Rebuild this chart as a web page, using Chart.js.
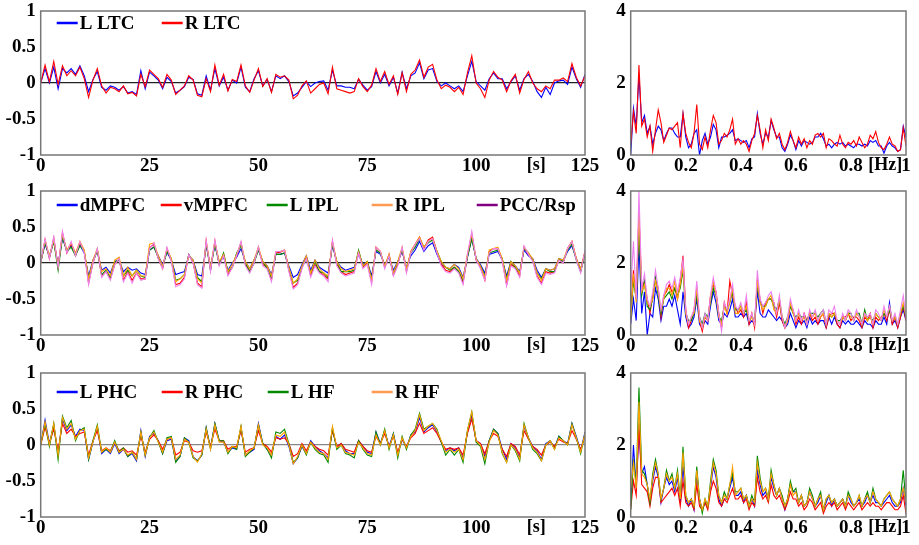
<!DOCTYPE html>
<html>
<head>
<meta charset="utf-8">
<script src="https://cdn.jsdelivr.net/npm/chart.js@4.4.0/dist/chart.umd.min.js"></script>
<style>
  body { margin: 0; background: #fff; width: 919px; height: 545px; position: relative; overflow: hidden; }
  canvas { position: absolute; }
</style>
</head>
<body>
<canvas id="t1" width="600" height="180" style="left:0;top:0"></canvas>
<canvas id="t2" width="600" height="180" style="left:0;top:180px"></canvas>
<canvas id="t3" width="600" height="180" style="left:0;top:362px"></canvas>
<canvas id="f1" width="319" height="180" style="left:600px;top:0"></canvas>
<canvas id="f2" width="319" height="180" style="left:600px;top:180px"></canvas>
<canvas id="f3" width="319" height="180" style="left:600px;top:362px"></canvas>
<script>
// sampling grids (time in s, frequency in Hz)
const timeSec = Array.from({ length: 126 }, (_, i) => i);
const freqHz = Array.from({ length: 101 }, (_, i) => i / 100);

const timeTicks = [0, 25, 50, 75, 100, 125];
const freqTicks = [0, 0.2, 0.4, 0.6, 0.8, 1];
const timeValueTicks = [-1, -0.5, 0, 0.5, 1];
const powerTicks = [0, 2, 4];

// row 1: LTC
const ltcNames = ["L LTC", "R LTC"];
const lLTC = [0.0,0.2,0.0,0.22,-0.08,0.2,0.14,0.2,0.12,0.24,
  0.1,-0.12,0.05,0.16,-0.06,-0.1,-0.04,-0.06,-0.1,-0.05,
  -0.14,-0.12,-0.16,0.17,-0.08,0.15,0.1,0.04,-0.08,0.08,
  0.02,-0.14,-0.1,-0.05,0.08,0.05,-0.15,-0.17,0.1,-0.1,
  0.2,-0.04,0.08,-0.1,0.04,0.0,0.22,-0.06,-0.12,0.06,
  0.17,-0.04,0.05,-0.12,0.1,0.06,0.1,0.02,-0.18,-0.14,
  -0.06,0.02,-0.05,0.0,0.02,0.03,-0.1,0.18,-0.04,-0.04,
  -0.06,-0.06,-0.08,0.05,-0.03,-0.1,-0.05,0.16,0.0,0.12,
  -0.04,0.08,-0.14,0.15,-0.08,0.1,0.14,0.28,0.06,0.18,
  0.2,0.02,-0.04,0.0,-0.04,-0.08,-0.04,-0.12,0.1,0.3,
  0.02,-0.04,-0.1,0.06,0.14,0.06,0.06,-0.08,0.02,0.1,
  -0.1,0.06,0.12,0.02,-0.12,-0.2,-0.06,-0.16,0.0,0.03,
  0.04,-0.02,0.22,0.06,-0.06,0.12];
const rLTC = [0.0,0.25,0.02,0.3,-0.02,0.24,0.1,0.17,0.1,0.22,
  0.06,-0.2,0.04,0.2,-0.04,-0.14,-0.06,-0.08,-0.12,-0.04,
  -0.15,-0.13,-0.18,0.12,-0.05,0.18,0.12,0.06,-0.06,0.12,
  0.04,-0.16,-0.1,-0.04,0.1,0.04,-0.17,-0.19,0.06,-0.12,
  0.25,-0.03,0.12,-0.11,0.05,0.02,0.25,-0.04,-0.13,0.04,
  0.2,-0.05,0.06,-0.13,0.12,0.08,0.1,0.04,-0.22,-0.17,
  -0.04,0.03,-0.14,-0.08,-0.02,0.0,-0.15,0.22,-0.08,-0.1,
  -0.12,-0.14,-0.12,0.06,-0.05,-0.12,-0.03,0.2,0.02,0.16,
  -0.02,0.1,-0.16,0.14,-0.12,0.12,0.18,0.32,0.08,0.22,
  0.26,0.04,-0.08,-0.03,-0.06,-0.12,-0.06,-0.16,0.14,0.38,
  0.0,-0.08,-0.2,0.04,0.16,0.08,0.04,-0.12,0.03,0.12,
  -0.14,0.05,0.16,0.0,-0.08,-0.12,-0.04,-0.08,0.04,0.04,
  0.07,0.02,0.27,0.08,-0.04,0.1];
const lLTCspec = [0.0,1.3,0.8,2.2,0.9,1.1,0.6,0.8,0.3,0.6,
  0.8,0.7,0.4,0.6,0.75,0.75,0.6,0.5,0.5,1.15,
  0.5,0.2,0.3,0.6,0.7,0.0,0.4,0.6,0.3,0.5,
  0.85,0.7,0.2,0.5,0.5,0.55,0.6,0.7,0.4,0.45,
  0.4,0.35,0.4,0.2,0.45,0.5,1.15,0.6,0.3,0.6,
  0.5,0.95,0.7,0.5,0.5,0.2,0.1,0.3,0.55,0.4,
  0.15,0.4,0.25,0.4,0.35,0.3,0.35,0.5,0.5,0.6,
  0.45,0.25,0.3,0.2,0.3,0.35,0.3,0.35,0.25,0.3,
  0.25,0.2,0.3,0.3,0.25,0.3,0.25,0.4,0.35,0.4,
  0.25,0.25,0.05,0.25,0.35,0.25,0.2,0.1,0.15,0.8,
  0.5];
const rLTCspec = [0.3,1.2,0.6,2.5,0.8,1.0,0.5,0.8,0.1,0.7,
  1.25,0.9,0.35,0.55,0.75,0.7,0.8,0.9,0.2,1.15,
  0.6,0.35,0.2,0.6,1.4,0.3,0.15,0.5,0.2,0.7,
  1.1,0.9,0.3,0.4,0.6,0.5,0.7,1.0,0.3,0.45,
  0.3,0.4,0.3,0.1,0.4,0.6,1.1,0.7,0.2,0.7,
  0.4,1.0,0.75,0.45,0.6,0.3,0.15,0.35,0.65,0.4,
  0.2,0.5,0.3,0.45,0.2,0.4,0.3,0.55,0.6,0.5,
  0.6,0.2,0.45,0.4,0.3,0.25,0.55,0.3,0.2,0.35,
  0.3,0.4,0.25,0.5,0.35,0.2,0.3,0.55,0.45,0.65,
  0.35,0.2,0.15,0.3,0.5,0.3,0.25,0.1,0.15,0.75,
  0.25];

// row 2: default mode network
const dmnNames = ["dMPFC", "vMPFC", "L IPL", "R IPL", "PCC/Rsp"];
const dMPFC = [0.02,0.26,0.1,0.3,-0.02,0.34,0.18,0.24,0.14,0.25,
  0.14,-0.18,0.04,0.17,-0.1,-0.06,-0.14,0.02,0.04,-0.12,
  -0.06,-0.1,-0.08,-0.14,-0.16,0.18,0.22,0.1,-0.02,0.15,
  0.04,-0.16,-0.14,-0.12,0.1,0.04,-0.16,-0.18,0.24,-0.04,
  0.24,0.02,0.08,-0.1,0.0,0.08,0.2,0.02,-0.08,0.04,
  0.18,0.02,-0.04,-0.16,0.12,0.12,0.14,-0.04,-0.2,-0.16,
  -0.02,0.1,-0.1,0.04,-0.06,-0.1,-0.14,0.24,0.02,-0.06,
  -0.1,-0.08,-0.06,0.12,-0.02,0.02,-0.18,0.16,0.12,-0.02,
  0.08,-0.1,0.02,0.16,-0.06,0.1,0.18,0.3,0.16,0.24,
  0.28,0.12,-0.02,-0.06,-0.08,-0.02,-0.06,-0.2,0.08,0.34,
  0.06,-0.02,-0.14,0.12,0.14,0.16,0.04,-0.18,0.02,-0.04,
  -0.12,0.18,0.1,0.06,-0.1,-0.2,-0.08,-0.1,-0.08,0.06,
  0.04,0.16,0.24,0.06,-0.08,0.14];
const vMPFC = [0.0,0.32,0.06,0.35,-0.06,0.42,0.14,0.27,0.1,0.28,
  0.16,-0.28,0.0,0.19,-0.18,-0.12,-0.22,-0.02,0.06,-0.24,
  -0.12,-0.24,-0.14,-0.22,-0.22,0.21,0.26,0.06,-0.08,0.2,
  0.04,-0.3,-0.28,-0.2,0.12,0.0,-0.28,-0.33,0.3,-0.1,
  0.3,-0.02,0.12,-0.16,-0.06,0.1,0.28,-0.02,-0.12,0.0,
  0.22,-0.02,-0.06,-0.24,0.14,0.15,0.18,-0.1,-0.34,-0.28,
  -0.06,0.08,-0.17,-0.02,-0.12,-0.17,-0.22,0.3,-0.02,-0.12,
  -0.16,-0.14,-0.12,0.16,-0.06,0.0,-0.26,0.22,0.16,-0.06,
  0.12,-0.17,-0.02,0.2,-0.12,0.16,0.26,0.36,0.2,0.32,
  0.36,0.16,-0.02,-0.1,-0.12,-0.06,-0.12,-0.27,0.1,0.4,
  0.04,-0.06,-0.24,0.16,0.2,0.2,0.04,-0.3,-0.02,-0.06,
  -0.18,0.22,0.12,0.04,-0.18,-0.28,-0.12,-0.14,-0.12,0.04,
  0.0,0.2,0.3,0.06,-0.12,0.16];
const lIPL = [0.0,0.28,0.08,0.3,-0.1,0.36,0.16,0.22,0.1,0.24,
  0.16,-0.22,0.02,0.17,-0.16,-0.1,-0.2,0.02,0.04,-0.18,
  -0.1,-0.18,-0.1,-0.18,-0.2,0.18,0.22,0.08,-0.06,0.16,
  0.06,-0.24,-0.22,-0.16,0.12,0.02,-0.2,-0.26,0.26,-0.1,
  0.26,-0.02,0.14,-0.12,-0.06,0.14,0.24,0.0,-0.12,0.0,
  0.18,0.02,-0.08,-0.2,0.12,0.12,0.14,-0.08,-0.28,-0.24,
  -0.06,0.06,-0.14,0.02,-0.12,-0.14,-0.2,0.26,0.02,-0.12,
  -0.12,-0.12,-0.1,0.18,-0.04,0.02,-0.22,0.18,0.14,-0.04,
  0.1,-0.16,0.02,0.18,-0.08,0.14,0.22,0.34,0.22,0.28,
  0.32,0.16,0.02,-0.06,-0.1,-0.06,-0.12,-0.24,0.08,0.34,
  0.06,-0.04,-0.18,0.14,0.16,0.18,0.06,-0.22,0.02,-0.06,
  -0.14,0.2,0.14,0.04,-0.14,-0.22,-0.08,-0.12,-0.12,0.06,
  0.02,0.18,0.26,0.04,-0.12,0.12];
const rIPL = [0.0,0.32,0.1,0.32,-0.04,0.4,0.18,0.28,0.14,0.3,
  0.18,-0.22,0.04,0.2,-0.12,-0.08,-0.18,0.04,0.08,-0.18,
  -0.06,-0.18,-0.1,-0.18,-0.18,0.26,0.28,0.1,-0.04,0.2,
  0.06,-0.26,-0.22,-0.16,0.1,0.04,-0.22,-0.28,0.3,-0.06,
  0.3,0.02,0.12,-0.12,-0.02,0.12,0.28,0.02,-0.08,0.04,
  0.22,0.02,-0.04,-0.18,0.16,0.16,0.18,-0.06,-0.28,-0.22,
  -0.04,0.1,-0.14,0.04,-0.08,-0.14,-0.18,0.3,0.02,-0.08,
  -0.12,-0.1,-0.08,0.16,-0.04,0.02,-0.24,0.22,0.16,-0.04,
  0.12,-0.14,0.02,0.22,-0.08,0.16,0.26,0.36,0.22,0.3,
  0.34,0.16,0.02,-0.06,-0.08,-0.02,-0.08,-0.22,0.12,0.4,
  0.06,-0.04,-0.2,0.18,0.2,0.22,0.06,-0.24,0.02,-0.04,
  -0.14,0.22,0.14,0.06,-0.14,-0.24,-0.08,-0.1,-0.08,0.06,
  0.04,0.2,0.3,0.06,-0.08,0.16];
const pccRsp = [0.0,0.34,0.06,0.36,-0.06,0.44,0.14,0.3,0.1,0.3,
  0.14,-0.3,0.0,0.2,-0.2,-0.12,-0.24,-0.02,0.06,-0.26,
  -0.14,-0.28,-0.14,-0.24,-0.22,0.2,0.28,0.06,-0.08,0.22,
  0.02,-0.33,-0.3,-0.22,0.12,0.0,-0.3,-0.35,0.32,-0.12,
  0.32,-0.04,0.1,-0.18,-0.06,0.1,0.3,-0.04,-0.14,0.0,
  0.22,-0.04,-0.08,-0.26,0.16,0.16,0.18,-0.12,-0.36,-0.3,
  -0.08,0.06,-0.2,-0.04,-0.14,-0.18,-0.26,0.32,-0.04,-0.14,
  -0.18,-0.16,-0.14,0.14,-0.08,-0.02,-0.3,0.22,0.16,-0.08,
  0.1,-0.18,-0.04,0.22,-0.14,0.14,0.26,0.34,0.18,0.3,
  0.34,0.14,-0.04,-0.12,-0.14,-0.08,-0.14,-0.3,0.12,0.44,
  0.04,-0.08,-0.24,0.14,0.2,0.2,0.02,-0.32,-0.04,-0.08,
  -0.2,0.24,0.12,0.02,-0.2,-0.3,-0.14,-0.16,-0.14,0.04,
  0.0,0.2,0.3,0.04,-0.14,0.18];
const dMPFCspec = [0.3,1.0,0.4,2.5,0.6,1.2,0.0,0.6,0.5,1.3,
  1.0,0.4,0.8,0.8,1.0,0.8,1.1,0.7,0.3,1.2,
  0.5,0.2,0.3,0.5,1.0,0.3,0.2,0.4,0.3,0.8,
  1.2,0.9,0.4,0.3,0.6,0.5,0.7,1.0,0.5,0.5,
  0.6,0.5,0.6,0.3,0.4,0.3,1.2,0.6,0.5,0.5,
  0.7,0.6,0.5,0.4,0.5,0.4,0.2,0.3,0.6,0.4,
  0.2,0.4,0.3,0.4,0.2,0.5,0.3,0.4,0.3,0.4,
  0.4,0.2,0.5,0.3,0.5,0.3,0.2,0.4,0.3,0.4,
  0.3,0.3,0.4,0.3,0.2,0.4,0.3,0.3,0.2,0.4,
  0.3,0.3,0.5,0.3,0.9,0.3,0.4,0.2,0.5,0.7,
  0.4];
const vMPFCspec = [0.6,1.8,1.0,3.4,1.3,1.5,1.0,0.6,1.1,1.5,
  1.3,0.5,1.1,1.2,1.4,1.2,1.3,1.0,1.5,2.2,
  0.7,0.2,0.4,0.7,1.3,0.4,0.1,0.5,0.4,1.1,
  1.4,1.2,0.6,0.2,0.9,0.6,1.5,1.1,0.8,0.6,
  0.7,0.5,0.9,0.3,0.6,0.2,1.5,1.0,0.6,0.9,
  1.0,1.0,0.9,0.5,0.9,0.4,0.2,0.4,0.8,0.7,
  0.3,0.5,0.3,0.6,0.4,0.6,0.4,0.5,0.3,0.5,
  0.6,0.2,0.5,0.6,0.6,0.3,0.2,0.5,0.5,0.6,
  0.4,0.5,0.5,0.4,0.2,0.5,0.4,0.6,0.2,0.5,
  0.4,0.5,0.6,0.4,0.7,0.3,0.5,0.2,0.5,0.8,
  0.4];
const lIPLspec = [0.5,1.5,1.0,3.0,1.1,1.5,0.8,0.7,1.0,1.6,
  1.1,0.6,1.0,1.1,1.2,1.0,1.3,1.1,1.3,1.8,
  0.6,0.4,0.4,0.6,1.1,0.5,0.3,0.6,0.5,0.9,
  1.3,1.1,0.5,0.4,0.8,0.7,0.9,1.2,0.7,0.7,
  0.8,0.6,0.7,0.4,0.5,0.4,1.4,0.9,0.8,0.8,
  1.0,1.0,0.8,0.7,1.0,0.5,0.3,0.5,0.8,0.6,
  0.5,0.6,0.5,0.5,0.4,0.6,0.6,0.6,0.5,0.6,
  0.7,0.3,0.6,0.5,0.6,0.4,0.4,0.5,0.4,0.6,
  0.6,0.4,0.6,0.6,0.3,0.7,0.4,0.5,0.4,0.6,
  0.5,0.4,0.6,0.5,0.7,0.4,0.5,0.3,0.6,0.8,
  0.5];
const rIPLspec = [0.4,1.7,0.9,3.4,1.2,1.4,0.9,0.8,1.0,1.5,
  1.2,0.7,1.0,1.3,1.3,1.1,1.5,1.0,1.4,1.9,
  0.6,0.3,0.5,0.6,1.3,0.4,0.2,0.5,0.4,1.0,
  1.5,1.1,0.5,0.3,0.8,0.6,0.9,1.3,0.6,0.6,
  0.8,0.6,0.8,0.4,0.5,0.3,1.5,0.9,0.7,0.8,
  1.0,1.1,0.7,0.6,1.0,0.5,0.2,0.4,0.9,0.6,
  0.4,0.6,0.4,0.5,0.3,0.6,0.5,0.6,0.4,0.5,
  0.6,0.3,0.6,0.5,0.6,0.4,0.3,0.5,0.4,0.6,
  0.5,0.4,0.6,0.5,0.3,0.6,0.4,0.5,0.3,0.6,
  0.5,0.4,0.7,0.5,0.8,0.4,0.5,0.3,0.6,0.9,
  0.5];
const pccRspSpec = [1.2,2.6,1.0,4.0,1.3,1.7,1.0,0.8,1.2,1.8,
  1.3,0.7,1.1,1.4,1.5,1.3,1.6,1.2,1.6,2.1,
  0.7,0.3,0.5,0.7,1.5,0.5,0.2,0.6,0.4,1.1,
  1.6,1.2,0.6,0.1,0.9,0.7,1.0,1.4,0.8,0.7,
  0.9,0.6,1.1,0.4,0.6,0.3,1.8,1.0,0.8,0.9,
  1.1,1.2,0.9,0.6,1.1,0.5,0.2,0.5,1.0,0.7,
  0.4,0.7,0.4,0.6,0.3,0.7,0.5,0.7,0.4,0.6,
  0.7,0.3,0.7,0.6,0.8,0.4,0.3,0.6,0.4,0.7,
  0.6,0.4,0.7,0.5,0.3,0.6,0.5,0.6,0.3,0.7,
  0.6,0.4,0.8,0.5,0.8,0.4,0.6,0.3,0.7,1.1,
  0.5];

// row 3: medial temporal lobe
const mtlNames = ["L PHC", "R PHC", "L HF", "R HF"];
const lPHC = [0.0,0.35,0.02,0.28,-0.12,0.36,0.2,0.28,0.12,0.22,
  0.2,-0.2,0.04,0.24,-0.12,-0.06,-0.12,0.02,-0.12,-0.06,
  -0.16,-0.12,-0.22,0.2,-0.16,0.12,0.16,0.06,-0.12,0.06,
  0.08,-0.22,-0.16,0.1,0.06,-0.16,-0.22,-0.14,0.24,-0.04,
  0.3,0.06,0.04,-0.1,-0.04,-0.06,0.24,-0.14,-0.1,-0.06,
  0.3,0.02,-0.06,-0.14,0.12,0.08,0.14,-0.02,-0.26,-0.18,
  -0.02,-0.12,0.06,-0.02,-0.08,-0.12,-0.18,0.22,-0.04,0.02,
  -0.08,-0.12,-0.12,0.06,-0.02,-0.1,-0.12,0.18,0.02,0.2,
  -0.02,0.16,-0.12,0.08,-0.04,0.14,0.18,0.38,0.18,0.24,
  0.28,0.18,0.04,-0.08,-0.04,-0.08,-0.04,-0.18,0.18,0.42,
  0.06,0.02,-0.16,0.06,0.22,0.16,-0.06,-0.2,0.02,-0.04,
  -0.18,0.26,0.1,-0.02,-0.08,-0.2,0.02,0.06,-0.04,0.12,
  0.06,0.02,0.3,0.12,-0.08,0.18];
const rPHC = [0.0,0.25,0.02,0.22,-0.08,0.3,0.16,0.22,0.12,0.16,
  0.18,-0.14,0.06,0.2,-0.08,-0.04,-0.08,0.04,-0.08,-0.04,
  -0.1,-0.08,-0.14,0.12,-0.1,0.08,0.14,0.06,-0.06,0.08,
  0.1,-0.14,-0.1,0.06,0.04,-0.08,-0.1,-0.08,0.18,-0.02,
  0.22,0.06,0.06,-0.06,-0.02,-0.02,0.2,-0.1,-0.06,-0.04,
  0.2,0.02,-0.02,-0.1,0.1,0.08,0.1,0.02,-0.16,-0.12,
  0.02,-0.08,0.04,-0.02,-0.06,-0.08,-0.14,0.2,-0.02,0.02,
  -0.06,-0.08,-0.1,0.06,-0.02,-0.08,-0.1,0.12,0.02,0.16,
  -0.02,0.12,-0.1,0.08,-0.02,0.1,0.16,0.3,0.16,0.2,
  0.24,0.16,0.04,-0.06,-0.04,-0.06,-0.04,-0.14,0.16,0.36,
  0.06,0.02,-0.12,0.06,0.16,0.12,-0.06,-0.16,0.02,-0.02,
  -0.14,0.2,0.08,-0.02,-0.06,-0.14,0.0,0.04,-0.02,0.08,
  0.04,0.02,0.2,0.08,-0.06,0.12];
const lHF = [0.0,0.3,-0.02,0.3,-0.2,0.4,0.24,0.34,0.06,0.2,
  0.24,-0.2,0.06,0.28,-0.1,-0.06,-0.1,0.06,-0.1,-0.04,
  -0.16,-0.1,-0.2,0.18,-0.14,0.1,0.2,0.04,-0.12,0.1,
  0.12,-0.24,-0.16,0.1,0.04,-0.18,-0.22,-0.14,0.24,-0.06,
  0.3,0.06,0.06,-0.12,-0.02,-0.06,0.26,-0.16,-0.1,-0.04,
  0.28,0.02,-0.06,-0.18,0.18,0.16,0.22,0.02,-0.24,-0.18,
  0.0,-0.14,0.04,-0.06,-0.12,-0.14,-0.24,0.24,-0.06,0.0,
  -0.12,-0.14,-0.18,0.06,-0.06,-0.14,-0.16,0.18,0.0,0.22,
  -0.06,0.16,-0.18,0.12,-0.06,0.14,0.22,0.44,0.22,0.26,
  0.3,0.22,0.04,-0.14,-0.06,-0.14,-0.06,-0.24,0.2,0.46,
  0.04,-0.02,-0.26,0.06,0.22,0.16,-0.12,-0.24,0.0,-0.08,
  -0.22,0.3,0.1,-0.06,-0.12,-0.22,0.0,0.06,-0.06,0.12,
  0.06,0.0,0.3,0.1,-0.12,0.16];
const rHF = [0.0,0.32,0.0,0.3,-0.14,0.38,0.22,0.3,0.08,0.2,
  0.22,-0.18,0.04,0.26,-0.1,-0.04,-0.1,0.04,-0.1,-0.06,
  -0.14,-0.1,-0.2,0.18,-0.14,0.1,0.18,0.04,-0.1,0.08,
  0.1,-0.2,-0.14,0.08,0.04,-0.16,-0.24,-0.12,0.22,-0.06,
  0.28,0.04,0.04,-0.1,-0.02,-0.04,0.26,-0.14,-0.08,-0.04,
  0.28,0.0,-0.04,-0.14,0.14,0.12,0.18,0.0,-0.26,-0.16,
  0.0,-0.12,0.04,-0.04,-0.1,-0.12,-0.2,0.26,-0.04,0.0,
  -0.1,-0.12,-0.14,0.04,-0.04,-0.12,-0.14,0.14,0.0,0.2,
  -0.04,0.14,-0.14,0.1,-0.04,0.12,0.2,0.42,0.2,0.26,
  0.3,0.2,0.06,-0.1,-0.06,-0.1,-0.06,-0.2,0.2,0.46,
  0.06,0.0,-0.2,0.04,0.2,0.14,-0.1,-0.24,0.0,-0.06,
  -0.2,0.28,0.1,-0.04,-0.1,-0.22,0.0,0.06,-0.06,0.1,
  0.06,0.0,0.28,0.1,-0.1,0.16];
const lPHCspec = [0.3,2.0,0.8,2.4,1.2,1.4,0.9,0.4,1.0,1.4,
  1.1,0.4,0.8,1.1,0.9,1.0,0.7,1.1,0.4,1.4,
  0.5,0.3,0.5,0.2,1.2,0.5,0.2,0.4,0.3,0.8,
  1.4,1.1,0.5,0.3,0.5,0.5,0.8,1.1,0.6,0.6,
  0.7,0.4,0.6,0.3,0.5,0.3,1.3,0.9,0.6,0.7,
  0.5,1.1,0.8,0.6,0.8,0.5,0.2,0.5,0.9,0.7,
  0.7,0.4,0.6,0.3,0.4,0.7,0.5,0.3,0.4,0.6,
  0.2,0.4,0.6,0.3,0.5,0.3,0.4,0.5,0.3,0.6,
  0.4,0.3,0.4,0.5,0.3,0.4,0.6,0.4,0.6,0.4,
  0.4,0.3,0.4,0.5,0.6,0.4,0.3,0.3,0.4,0.8,
  0.3];
const rPHCspec = [0.2,1.0,0.6,2.6,0.9,0.8,0.7,0.3,0.8,1.1,
  1.1,0.4,0.5,0.6,0.7,0.8,0.6,0.8,0.3,1.0,
  0.4,0.3,0.4,0.2,0.9,0.3,0.2,0.4,0.2,0.7,
  1.0,0.8,0.4,0.3,0.5,0.4,0.6,0.8,0.5,0.5,
  0.6,0.4,0.5,0.2,0.4,0.3,1.1,0.7,0.5,0.6,
  0.4,0.9,0.6,0.5,0.6,0.4,0.2,0.4,0.7,0.5,
  0.5,0.3,0.4,0.2,0.3,0.5,0.4,0.2,0.3,0.4,
  0.1,0.3,0.4,0.3,0.4,0.2,0.3,0.4,0.2,0.4,
  0.3,0.2,0.3,0.4,0.2,0.3,0.4,0.3,0.4,0.3,
  0.3,0.2,0.3,0.4,0.4,0.3,0.2,0.2,0.3,0.6,
  0.1];
const lHFspec = [0.2,1.6,0.9,3.6,1.3,1.2,0.9,0.4,1.2,1.6,
  1.2,0.5,0.8,1.3,1.0,1.2,0.8,1.3,0.5,1.95,
  0.6,0.4,0.5,0.3,1.4,0.5,0.1,0.5,0.3,1.0,
  1.6,1.3,0.6,0.4,0.7,0.5,0.9,1.2,0.7,0.7,
  0.8,0.5,0.6,0.3,0.6,0.4,1.7,1.1,0.7,0.8,
  0.5,1.3,0.9,0.6,0.8,0.6,0.3,0.5,1.0,0.7,
  0.8,0.4,0.6,0.3,0.4,0.8,0.6,0.3,0.5,0.7,
  0.2,0.5,0.6,0.4,0.5,0.3,0.4,0.5,0.3,0.7,
  0.5,0.3,0.4,0.6,0.3,0.5,0.7,0.4,0.8,0.5,
  0.4,0.3,0.5,0.6,0.7,0.5,0.4,0.3,0.5,1.3,
  0.4];
const rHFspec = [0.8,1.5,0.8,3.2,1.2,1.1,0.9,0.5,1.1,1.5,
  1.2,0.5,0.8,1.2,1.0,1.1,0.8,1.2,0.5,1.8,
  0.6,0.4,0.5,0.3,1.3,0.5,0.2,0.5,0.3,0.9,
  1.5,1.2,0.6,0.4,0.6,0.5,0.9,1.4,0.6,0.7,
  0.8,0.5,0.6,0.3,0.5,0.4,1.5,1.0,0.7,0.8,
  0.5,1.2,0.9,0.6,0.8,0.5,0.3,0.5,0.9,0.6,
  0.7,0.4,0.6,0.3,0.4,0.7,0.5,0.3,0.5,0.6,
  0.2,0.5,0.6,0.4,0.5,0.3,0.4,0.5,0.3,0.6,
  0.5,0.3,0.4,0.6,0.3,0.5,0.6,0.4,0.7,0.5,
  0.4,0.3,0.5,0.6,0.7,0.5,0.4,0.3,0.5,0.8,
  0.4];

// colours: line in the plot, swatch in the legend
const lineColors = ["#0000ff", "#ff0000", "#008a00", "#ffa200", "#ee80ee"];
const legendColors = ["#0000ff", "#ff0000", "#008a00", "#ff9a50", "#800080"];

const FONT = '"Liberation Serif", "Times New Roman", serif';

// gray frame round the plot area
const frame = {
  id: "frame",
  afterDatasetsDraw(chart) {
    const a = chart.chartArea, ctx = chart.ctx;
    ctx.save();
    ctx.strokeStyle = "#777";
    ctx.lineWidth = 1.5;
    ctx.strokeRect(a.left, a.top, a.right - a.left, a.bottom - a.top);
    ctx.restore();
  }
};

// legend drawn inside the plot area
const innerLegend = {
  id: "innerLegend",
  afterDraw(chart, args, opts) {
    if (!opts.xs) return;
    const a = chart.chartArea, ctx = chart.ctx;
    ctx.save();
    ctx.font = "bold 19px " + FONT;
    ctx.textBaseline = "middle";
    chart.data.datasets.forEach((ds, i) => {
      const x = a.left + opts.xs[i], y = a.top + opts.y;
      ctx.strokeStyle = ds.legendColor;
      ctx.lineWidth = 2.5;
      ctx.beginPath();
      ctx.moveTo(x, y);
      ctx.lineTo(x + 21, y);
      ctx.stroke();
      ctx.fillStyle = "#000";
      ctx.fillText(ds.label, x + 23, y + 1);
    });
    ctx.restore();
  }
};
Chart.register(frame, innerLegend);

function makeSets(names, xs, series) {
  return series.map((ys, i) => ({
    label: names[i],
    data: xs.map((x, k) => ({ x: x, y: ys[k] })),
    borderColor: lineColors[i],
    legendColor: legendColors[i],
    borderWidth: 1.1,
    pointRadius: 0,
    fill: false,
    order: series.length - i
  }));
}

function tickFont(unitPos) {
  return (c) => ({ family: FONT, weight: "bold", size: c.tick && c.tick.value === unitPos ? 18 : 19 });
}

function makeChart(id, isTime, datasets, legend, zeroColor) {
  const xTicks = isTime ? timeTicks.concat([113.8]) : freqTicks.concat([0.925]);
  const unitPos = isTime ? 113.8 : 0.925;
  const unit = isTime ? "[s]" : "[Hz]";
  const yTicks = isTime ? timeValueTicks : powerTicks;
  new Chart(document.getElementById(id), {
    type: "line",
    data: { datasets: datasets },
    options: {
      responsive: false,
      animation: false,
      parsing: true,
      layout: { padding: { top: 11, right: isTime ? 15 : 13, left: 0, bottom: 0 } },
      plugins: {
        legend: { display: false },
        tooltip: { enabled: false },
        innerLegend: legend || {}
      },
      scales: {
        x: {
          type: "linear",
          min: 0,
          max: isTime ? 125 : 1,
          afterBuildTicks: (s) => { s.ticks = xTicks.map((v) => ({ value: v })); },
          afterFit: (s) => { s.height = 25; s.paddingLeft = 0; s.paddingRight = 0; },
          grid: { display: false, drawTicks: false },
          border: { display: false },
          ticks: {
            autoSkip: false,
            maxRotation: 0,
            padding: 0,
            color: "#000",
            font: tickFont(unitPos),
            callback: (v) => (v === unitPos ? unit : String(v))
          }
        },
        y: {
          type: "linear",
          min: yTicks[0],
          max: yTicks[yTicks.length - 1],
          afterBuildTicks: (s) => { s.ticks = yTicks.map((v) => ({ value: v })); },
          afterFit: (s) => { s.width = isTime ? 40.7 : 30.7; s.paddingTop = 0; s.paddingBottom = 0; },
          grid: {
            drawTicks: false,
            lineWidth: 1.2,
            color: (c) => (isTime && c.tick && c.tick.value === 0 ? zeroColor : "rgba(0,0,0,0)")
          },
          border: { display: false },
          ticks: {
            padding: 5,
            color: "#000",
            font: { family: FONT, weight: "bold", size: 19 },
            callback: (v) => String(v)
          }
        }
      }
    }
  });
}

makeChart("t1", true, makeSets(ltcNames, timeSec, [lLTC, rLTC]), { xs: [16, 121], y: 12 }, "#222");
makeChart("t2", true, makeSets(dmnNames, timeSec, [dMPFC, vMPFC, lIPL, rIPL, pccRsp]), { xs: [16, 120, 226, 331, 436], y: 14 }, "#222");
makeChart("t3", true, makeSets(mtlNames, timeSec, [lPHC, rPHC, lHF, rHF]), { xs: [16, 121, 227, 331], y: 19 }, "#888");
makeChart("f1", false, makeSets(ltcNames, freqHz, [lLTCspec, rLTCspec]), null);
makeChart("f2", false, makeSets(dmnNames, freqHz, [dMPFCspec, vMPFCspec, lIPLspec, rIPLspec, pccRspSpec]), null);
makeChart("f3", false, makeSets(mtlNames, freqHz, [lPHCspec, rPHCspec, lHFspec, rHFspec]), null);
</script>
</body>
</html>
